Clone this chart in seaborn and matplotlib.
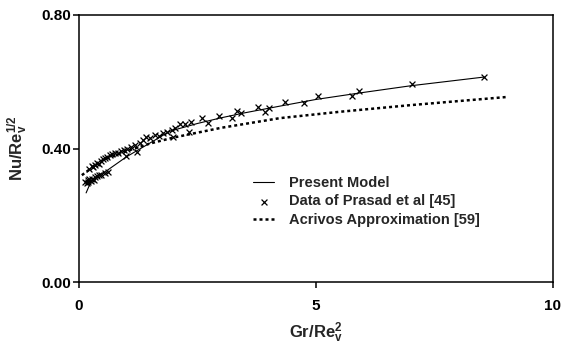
import matplotlib
matplotlib.use("Agg")
import matplotlib.pyplot as plt
import seaborn as sns
import pandas as pd

# Present model prediction
model_x = [0.15, 0.25, 0.40, 0.60, 0.80, 1.00, 1.30, 1.60, 1.92, 2.50, 3.00,
           3.50, 4.24, 5.00, 6.00, 7.00, 8.54]
model_y = [0.267, 0.300, 0.318, 0.335, 0.355, 0.375, 0.400, 0.425, 0.452, 0.475,
           0.492, 0.507, 0.527, 0.547, 0.568, 0.588, 0.614]

# Acrivos approximation
acrivos_x = [0.06, 0.25, 0.50, 1.00, 1.50, 2.00, 3.00, 4.24, 5.50, 7.00, 9.00]
acrivos_y = [0.320, 0.340, 0.365, 0.392, 0.415, 0.433, 0.462, 0.491, 0.510, 0.530, 0.554]

# Experimental data of Prasad et al
data_x = [0.13, 0.16, 0.18, 0.20, 0.22, 0.25, 0.28, 0.31, 0.34, 0.38, 0.42, 0.47,
          0.55, 0.62, 0.99, 1.22,
          0.22, 0.27, 0.30, 0.34, 0.38, 0.42, 0.46, 0.50, 0.55, 0.60, 0.65, 0.70,
          0.76, 0.82, 0.88, 0.95, 1.02, 1.10, 1.18, 1.28, 1.36, 1.41, 1.50, 1.60,
          1.68, 1.77, 1.85, 1.96, 1.99, 2.03, 2.13, 2.24, 2.32, 2.36, 2.59, 2.72,
          2.95, 3.23, 3.33, 3.42, 3.78, 3.92, 4.01, 4.35, 4.75, 5.04, 5.76, 5.91,
          7.03, 8.54]
data_y = [0.300, 0.296, 0.305, 0.300, 0.308, 0.303, 0.310, 0.306, 0.314, 0.318,
          0.322, 0.320, 0.327, 0.330, 0.378, 0.390,
          0.340, 0.348, 0.345, 0.352, 0.358, 0.355, 0.364, 0.368, 0.372, 0.376,
          0.380, 0.384, 0.388, 0.386, 0.392, 0.396, 0.400, 0.404, 0.410, 0.415,
          0.424, 0.434, 0.430, 0.440, 0.438, 0.447, 0.450, 0.455, 0.434, 0.460,
          0.473, 0.473, 0.449, 0.480, 0.491, 0.476, 0.497, 0.491, 0.512, 0.506,
          0.524, 0.509, 0.521, 0.539, 0.536, 0.557, 0.557, 0.572, 0.593, 0.614]

x_ticks = [0, 5, 10]
y_ticks = [0.0, 0.4, 0.8]
y_tick_labels = ["0.00", "0.40", "0.80"]

sns.set_theme(style="ticks")
plt.rcParams["font.family"] = ["Liberation Sans", "DejaVu Sans"]
plt.rcParams["font.weight"] = "bold"
plt.rcParams["mathtext.fontset"] = "custom"
plt.rcParams["mathtext.rm"] = "Liberation Sans:bold"
plt.rcParams["mathtext.it"] = "Liberation Sans:bold"
plt.rcParams["mathtext.bf"] = "Liberation Sans:bold"

fig = plt.figure(figsize=(5.67, 3.52), dpi=100)
ax = fig.add_axes([79 / 567, 1 - 282 / 352, (553 - 79) / 567, (282 - 15) / 352])

df_model = pd.DataFrame({"x": model_x, "y": model_y})
df_acr = pd.DataFrame({"x": acrivos_x, "y": acrivos_y})
df_data = pd.DataFrame({"x": data_x, "y": data_y})

sns.lineplot(data=df_model, x="x", y="y", ax=ax, color="black", linewidth=0.8,
             label="Present Model", sort=True)
sns.scatterplot(data=df_data, x="x", y="y", ax=ax, marker="x", color="black",
                s=18, linewidth=0.9, label="Data of Prasad et al [45]")
sns.lineplot(data=df_acr, x="x", y="y", ax=ax, color="black", linewidth=1.8,
             linestyle=(0, (1.2, 1.2)), label="Acrivos Approximation [59]", sort=True)

ax.set_xlim(0, 10)
ax.set_ylim(0, 0.8)
ax.set_xticks(x_ticks)
ax.set_xticklabels([str(t) for t in x_ticks])
ax.set_yticks(y_ticks)
ax.set_yticklabels(y_tick_labels)
ax.tick_params(axis="both", direction="out", length=4, width=1.1, colors="black",
               labelsize=11)
ax.tick_params(axis="x", pad=8)
ax.tick_params(axis="y", pad=2)
for lbl in ax.get_xticklabels() + ax.get_yticklabels():
    lbl.set_fontweight("bold")
for sp in ax.spines.values():
    sp.set_visible(True)
    sp.set_linewidth(1.1)
    sp.set_color("black")

ax.set_xlabel(r"Gr/Re$_{\rm v}^{\rm 2}$", fontsize=12, fontweight="bold", labelpad=6)
ax.set_ylabel(r"Nu/Re$_{\rm v}^{\rm 1/2}$", fontsize=12, fontweight="bold", labelpad=8)

handles, labels = ax.get_legend_handles_labels()
leg = ax.legend(handles, labels, loc="upper left", bbox_to_anchor=(0.355, 0.42),
                frameon=False, fontsize=10.5, handlelength=1.45, handletextpad=1.0,
                labelspacing=0.32, borderaxespad=0)
for t in leg.get_texts():
    t.set_fontweight("bold")

fig.savefig("out.png", dpi=100)
